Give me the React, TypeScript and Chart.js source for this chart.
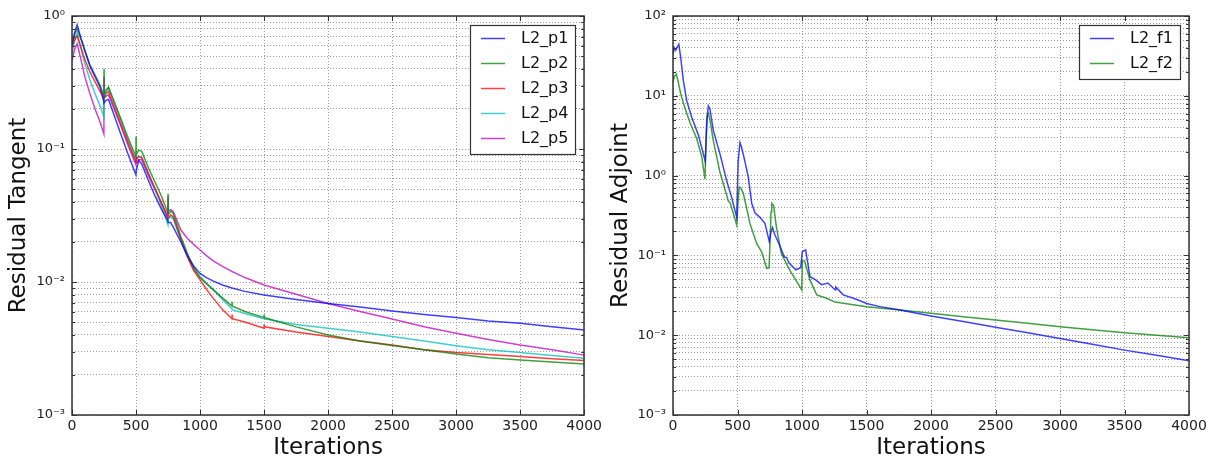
import React, { useEffect, useRef } from "react";
import { Chart, registerables } from "chart.js";

Chart.register(...registerables);

// ---------- Data: left panel (Residual Tangent) ----------
const P_ITER = [0, 20, 40, 70, 100, 140, 180, 220, 249, 250, 251, 265, 285, 320, 380, 440, 499, 500, 501, 520, 545, 600, 650, 700, 749, 750, 751, 770, 790, 850, 900, 950, 1000, 1050, 1100, 1175, 1249, 1250, 1251, 1350, 1499, 1500, 1501, 1750, 2000, 2250, 2500, 2750, 3000, 3250, 3500, 3750, 4000];
const L2_P1 = [0.60, 0.75, 0.86, 0.68, 0.55, 0.42, 0.35, 0.29, 0.225, 0.222, 0.222, 0.232, 0.236, 0.19, 0.13, 0.09, 0.064, 0.066, 0.068, 0.082, 0.077, 0.057, 0.044, 0.035, 0.029, 0.028, 0.028, 0.028, 0.026, 0.020, 0.0158, 0.0132, 0.0116, 0.0108, 0.0102, 0.0095, 0.009, 0.009, 0.009, 0.0085, 0.0080, 0.0080, 0.0080, 0.0074, 0.0069, 0.0065, 0.00605, 0.0057, 0.00542, 0.0051, 0.0049, 0.0046, 0.00436];
const L2_P2 = [0.62, 0.72, 0.80, 0.67, 0.55, 0.43, 0.36, 0.30, 0.25, 0.40, 0.26, 0.27, 0.29, 0.24, 0.17, 0.12, 0.088, 0.124, 0.09, 0.098, 0.096, 0.071, 0.056, 0.044, 0.033, 0.046, 0.032, 0.034, 0.033, 0.022, 0.0165, 0.0128, 0.0108, 0.0097, 0.0088, 0.0076, 0.0066, 0.0071, 0.0066, 0.006, 0.0054, 0.0057, 0.0054, 0.0046, 0.0040, 0.0036, 0.00333, 0.0031, 0.00288, 0.0027, 0.00259, 0.0025, 0.00242];
const L2_P3 = [0.58, 0.66, 0.71, 0.58, 0.47, 0.38, 0.32, 0.27, 0.24, 0.24, 0.24, 0.26, 0.27, 0.22, 0.155, 0.11, 0.08, 0.08, 0.082, 0.088, 0.086, 0.064, 0.05, 0.039, 0.030, 0.030, 0.030, 0.032, 0.031, 0.021, 0.0155, 0.0122, 0.0104, 0.0088, 0.0076, 0.0062, 0.0053, 0.0057, 0.0053, 0.0050, 0.0045, 0.0048, 0.0046, 0.0042, 0.0039, 0.0036, 0.00336, 0.0031, 0.00295, 0.00285, 0.00275, 0.00265, 0.00257];
const L2_P4 = [0.52, 0.65, 0.74, 0.57, 0.44, 0.33, 0.26, 0.21, 0.175, 0.25, 0.26, 0.28, 0.29, 0.235, 0.165, 0.115, 0.082, 0.082, 0.083, 0.088, 0.087, 0.065, 0.05, 0.037, 0.027, 0.030, 0.030, 0.031, 0.030, 0.021, 0.016, 0.0125, 0.0110, 0.0098, 0.0088, 0.0074, 0.0063, 0.0062, 0.0062, 0.0058, 0.0053, 0.0053, 0.0053, 0.0048, 0.00449, 0.0042, 0.00389, 0.0036, 0.00332, 0.0031, 0.00295, 0.0028, 0.00267];
const L2_P5 = [0.46, 0.56, 0.62, 0.47, 0.35, 0.26, 0.20, 0.158, 0.13, 0.35, 0.24, 0.25, 0.255, 0.21, 0.15, 0.105, 0.076, 0.09, 0.078, 0.083, 0.083, 0.062, 0.049, 0.039, 0.031, 0.044, 0.034, 0.035, 0.034, 0.0246, 0.0213, 0.0192, 0.0174, 0.0158, 0.0145, 0.0131, 0.012, 0.012, 0.012, 0.0108, 0.0095, 0.0095, 0.0095, 0.0081, 0.0069, 0.006, 0.00527, 0.0046, 0.00411, 0.0037, 0.00336, 0.0031, 0.00282];

// ---------- Data: right panel (Residual Adjoint) ----------
const F1_ITER = [0, 10, 20, 45, 60, 80, 106, 145, 175, 197, 235, 250, 262, 274, 285, 313, 364, 416, 455, 494, 505, 519, 530, 550, 584, 610, 636, 674, 713, 747, 760, 771, 790, 822, 862, 880, 900, 952, 990, 1002, 1028, 1062, 1100, 1152, 1200, 1256, 1262, 1320, 1398, 1450, 1500, 1605, 1760, 2000, 2250, 2500, 2750, 3000, 3250, 3500, 3750, 4000];
const L2_F1 = [33, 40, 37, 44, 30, 15.5, 8.7, 5.4, 4.0, 3.2, 1.87, 1.5, 5.0, 7.5, 7.0, 3.66, 1.87, 0.86, 0.53, 0.30, 1.5, 2.6, 2.3, 1.7, 0.95, 0.45, 0.34, 0.30, 0.25, 0.148, 0.2, 0.224, 0.18, 0.14, 0.096, 0.094, 0.08, 0.066, 0.07, 0.111, 0.117, 0.054, 0.05, 0.043, 0.045, 0.037, 0.040, 0.032, 0.029, 0.027, 0.025, 0.0228, 0.0207, 0.0174, 0.0148, 0.0126, 0.0107, 0.0091, 0.0077, 0.0065, 0.0056, 0.0048];
const F2_ITER = [0, 10, 26, 40, 60, 93, 132, 184, 222, 248, 257, 266, 275, 290, 313, 364, 429, 445, 494, 505, 514, 525, 545, 597, 649, 688, 726, 745, 760, 765, 780, 801, 839, 904, 998, 1002, 1020, 1062, 1114, 1191, 1256, 1398, 1500, 1760, 2000, 2250, 2500, 2750, 3000, 3250, 3500, 3750, 4000];
const L2_F2 = [15, 17.5, 18.7, 15, 10.5, 7.0, 4.6, 2.9, 1.75, 0.9, 3.0, 5.6, 6.0, 4.6, 2.7, 1.1, 0.48, 0.45, 0.24, 0.5, 0.72, 0.70, 0.6, 0.25, 0.14, 0.11, 0.069, 0.07, 0.35, 0.45, 0.42, 0.23, 0.106, 0.066, 0.037, 0.087, 0.085, 0.049, 0.032, 0.029, 0.026, 0.024, 0.0228, 0.0207, 0.0188, 0.017, 0.0155, 0.0141, 0.0128, 0.0117, 0.0107, 0.0100, 0.0093];

// ---------- Axis labels ----------
const X_TICKS = [0, 500, 1000, 1500, 2000, 2500, 3000, 3500, 4000];
const X_TITLE = "Iterations";
const LEFT_Y_TITLE = "Residual Tangent";
const RIGHT_Y_TITLE = "Residual Adjoint";
const LEFT_Y_EXP = [-3, 0];
const RIGHT_Y_EXP = [-3, 2];

const FONT = '"DejaVu Sans", "Liberation Sans", sans-serif';
const SUP: Record<string, string> = { "0": "⁰", "1": "¹", "2": "²", "3": "³", "4": "⁴", "5": "⁵", "6": "⁶", "7": "⁷", "8": "⁸", "9": "⁹", "-": "⁻" };

function logTicks(minExp: number, maxExp: number) {
  const t: { value: number }[] = [];
  for (let e = minExp; e < maxExp; e++) for (let m = 1; m <= 9; m++) t.push({ value: m * Math.pow(10, e) });
  t.push({ value: Math.pow(10, maxExp) });
  return t;
}
function isPow10(v: number) {
  const e = Math.log10(v);
  return Math.abs(e - Math.round(e)) < 1e-6;
}
function powLabel(v: number) {
  if (!isPow10(v)) return "";
  const r = Math.round(Math.log10(v));
  return "10" + String(r).split("").map((c) => SUP[c]).join("");
}

const mplPlugin = {
  id: "mplFrame",
  afterDatasetsDraw(chart: any) {
    const { ctx, chartArea: a, scales } = chart;
    ctx.save();
    ctx.strokeStyle = "#333";
    ctx.lineWidth = 1;
    ctx.beginPath();
    scales.x.ticks.forEach((t: any) => {
      const px = Math.round(scales.x.getPixelForValue(t.value)) + 0.5;
      ctx.moveTo(px, a.bottom); ctx.lineTo(px, a.bottom - 5);
      ctx.moveTo(px, a.top); ctx.lineTo(px, a.top + 5);
    });
    scales.y.ticks.forEach((t: any) => {
      const len = isPow10(t.value) ? 5 : 3;
      const py = Math.round(scales.y.getPixelForValue(t.value)) + 0.5;
      ctx.moveTo(a.left, py); ctx.lineTo(a.left + len, py);
      ctx.moveTo(a.right, py); ctx.lineTo(a.right - len, py);
    });
    ctx.stroke();
    ctx.lineWidth = 1.5;
    ctx.strokeStyle = "#333";
    ctx.strokeRect(Math.round(a.left), Math.round(a.top), Math.round(a.right - a.left), Math.round(a.bottom - a.top));
    ctx.restore();
  },
  afterDraw(chart: any) {
    const { ctx, chartArea: a } = chart;
    const ds = chart.data.datasets;
    ctx.save();
    ctx.font = `16px ${FONT}`;
    const tw = Math.max(...ds.map((d: any) => ctx.measureText(d.label).width));
    const w = Math.round(11 + 24 + 16 + tw + 7);
    const h = 13 + (ds.length - 1) * 25 + 16;
    const right = Math.round(a.right - 9);
    const top = Math.round(a.top + 9);
    const left = right - w;
    ctx.fillStyle = "#fff";
    ctx.fillRect(left, top, w, h);
    ctx.strokeStyle = "#333";
    ctx.lineWidth = 1.2;
    ctx.strokeRect(left + 0.5, top + 0.5, w, h);
    ds.forEach((d: any, i: number) => {
      const cy = top + 13 + i * 25;
      ctx.strokeStyle = d.borderColor;
      ctx.lineWidth = 1.5;
      ctx.beginPath();
      ctx.moveTo(left + 11, cy + 0.5);
      ctx.lineTo(left + 35, cy + 0.5);
      ctx.stroke();
      ctx.fillStyle = "#111";
      ctx.textBaseline = "middle";
      ctx.textAlign = "left";
      ctx.fillText(d.label, left + 51, cy + 1);
    });
    ctx.restore();
  },
};

function makeConfig(p: {
  datasets: any[];
  yExp: number[];
  yTitle: string;
  yWidth: number;
  padRight: number;
  titlePad: number;
}) {
  return {
    type: "line",
    data: { datasets: p.datasets },
    options: {
      animation: false,
      responsive: false,
      maintainAspectRatio: false,
      layout: { padding: { left: 0, right: p.padRight, top: 16, bottom: 0 } },
      plugins: { legend: { display: false }, tooltip: { enabled: false } },
      elements: { point: { radius: 0 }, line: { borderWidth: 1.5, tension: 0 } },
      scales: {
        x: {
          type: "linear",
          min: X_TICKS[0],
          max: X_TICKS[X_TICKS.length - 1],
          afterBuildTicks: (s: any) => { s.ticks = X_TICKS.map((v) => ({ value: v })); },
          afterFit: (s: any) => { s.height = 47; },
          ticks: { autoSkip: false, maxRotation: 0, callback: (v: any) => String(v), font: { family: FONT, size: 14 }, color: "#222", padding: 3 },
          grid: { color: "#9a9a9a", lineWidth: 1, drawTicks: false },
          border: { display: false, dash: [1, 2] },
          title: { display: true, text: X_TITLE, font: { family: FONT, size: 23 }, color: "#111", padding: { top: 0, bottom: 0 } },
        },
        y: {
          type: "logarithmic",
          min: Math.pow(10, p.yExp[0]),
          max: Math.pow(10, p.yExp[1]),
          afterBuildTicks: (s: any) => { s.ticks = logTicks(p.yExp[0], p.yExp[1]); },
          afterFit: (s: any) => { s.width = p.yWidth; },
          ticks: { autoSkip: false, callback: (v: any) => powLabel(Number(v)), font: { family: FONT, size: 13 }, color: "#222", padding: 7 },
          grid: { color: "#9a9a9a", lineWidth: 1, drawTicks: false },
          border: { display: false, dash: [1, 2] },
          title: { display: true, text: p.yTitle, font: { family: FONT, size: 23 }, color: "#111", padding: { top: p.titlePad, bottom: 0 } },
        },
      },
    },
    plugins: [mplPlugin],
  };
}

function series(label: string, xs: number[], ys: number[], color: string) {
  return {
    label,
    data: xs.map((x, i) => ({ x, y: ys[i] })),
    borderColor: color,
    backgroundColor: color,
    borderWidth: 1.5,
    pointRadius: 0,
    fill: false,
  };
}

function Panel({ left, width, config }: { left: number; width: number; config: () => any }) {
  const ref = useRef<HTMLCanvasElement | null>(null);
  useEffect(() => {
    if (!ref.current) return;
    const chart = new Chart(ref.current, config() as any);
    return () => chart.destroy();
  }, []);
  return (
    <canvas
      ref={ref}
      width={width}
      height={462}
      style={{ position: "absolute", left, top: 0, width, height: 462 }}
    />
  );
}

export default function App() {
  const leftConfig = () =>
    makeConfig({
      datasets: [
        series("L2_p1", P_ITER, L2_P1, "rgba(0,0,255,0.75)"),
        series("L2_p2", P_ITER, L2_P2, "rgba(0,128,0,0.75)"),
        series("L2_p3", P_ITER, L2_P3, "rgba(255,0,0,0.75)"),
        series("L2_p4", P_ITER, L2_P4, "rgba(0,191,191,0.75)"),
        series("L2_p5", P_ITER, L2_P5, "rgba(191,0,191,0.75)"),
      ],
      yExp: LEFT_Y_EXP,
      yTitle: LEFT_Y_TITLE,
      yWidth: 72,
      padRight: 19,
      titlePad: 5,
    });
  const rightConfig = () =>
    makeConfig({
      datasets: [
        series("L2_f1", F1_ITER, L2_F1, "rgba(0,0,255,0.75)"),
        series("L2_f2", F2_ITER, L2_F2, "rgba(0,128,0,0.75)"),
      ],
      yExp: RIGHT_Y_EXP,
      yTitle: RIGHT_Y_TITLE,
      yWidth: 68,
      padRight: 26,
      titlePad: 2,
    });
  return (
    <div style={{ position: "absolute", left: 0, top: 0, width: 1215, height: 462, background: "#fff" }}>
      <Panel left={0} width={605} config={leftConfig} />
      <Panel left={605} width={610} config={rightConfig} />
    </div>
  );
}
